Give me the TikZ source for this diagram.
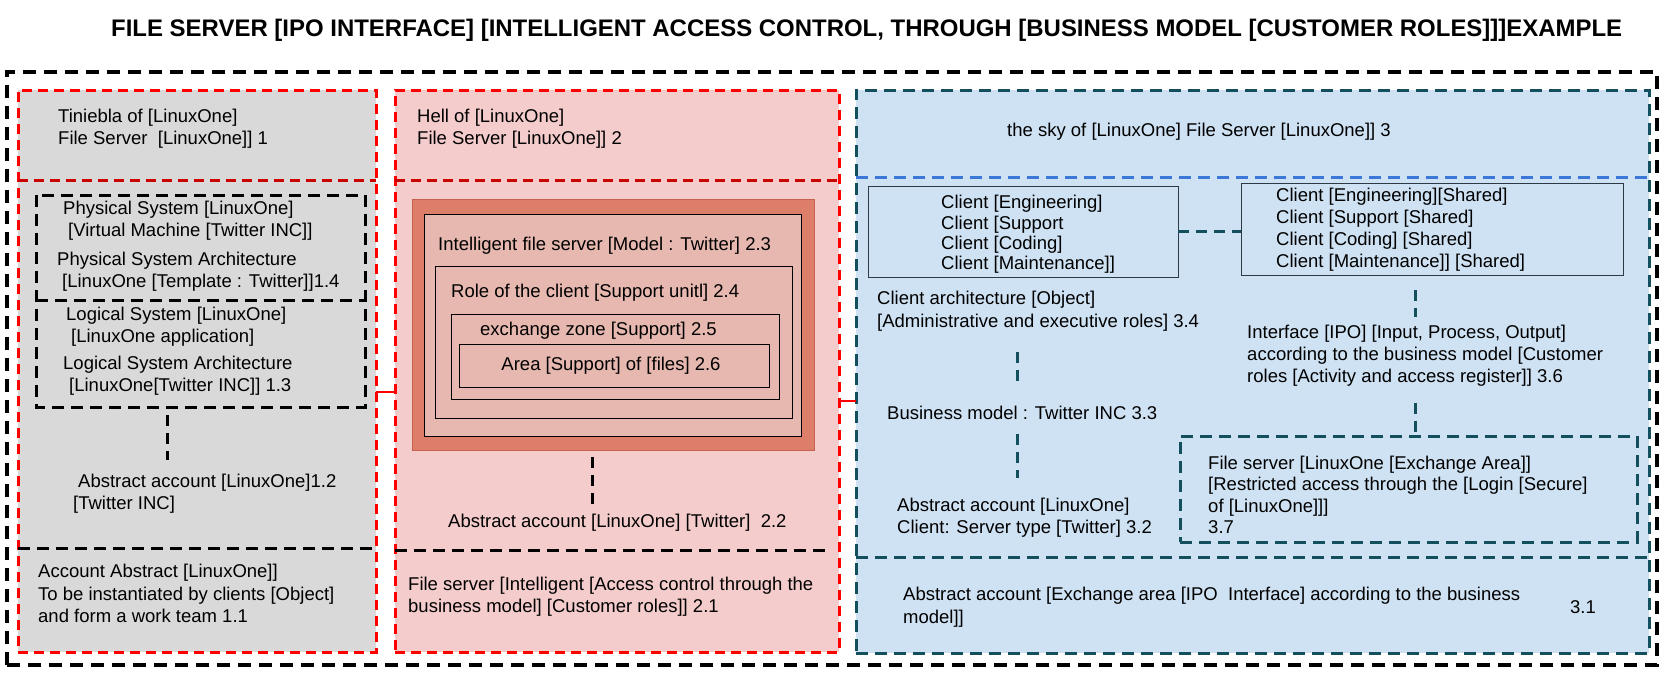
\documentclass[tikz,border=0pt]{standalone}
\usepackage{fontspec}
\setmainfont{Liberation Sans}
\usepackage{graphicx}
\usetikzlibrary{calc}
\definecolor{gfill}{HTML}{D9D9D9}
\definecolor{pfill}{HTML}{F4CCCC}
\definecolor{bfill}{HTML}{CFE2F3}
\definecolor{ofill}{HTML}{DD7E6B}
\definecolor{oline}{HTML}{C4624E}
\definecolor{ifill}{HTML}{E6B8AF}
\definecolor{redc}{HTML}{FF0000}
\definecolor{dredc}{HTML}{CC0000}
\definecolor{tealc}{HTML}{134F5C}
\definecolor{bluec}{HTML}{3C78D8}
\definecolor{boxline}{HTML}{2B3A44}
\begin{document}
\begin{tikzpicture}[x=1pt,y=-1pt,
  panel/.style={anchor=north west, inner sep=0pt, outer sep=0pt},
  txt/.style={anchor=north west, inner sep=0pt, align=left, font=\fontsize{18.5}{21.5}\selectfont},
  outerdash/.style={draw=black, line width=3.2pt, dash pattern=on 13pt off 8pt},
  reddash/.style={draw=redc, line width=3pt, dash pattern=on 10pt off 6pt},
  dreddash/.style={draw=dredc, line width=3pt, dash pattern=on 10pt off 6pt},
  blkdash/.style={draw=black, line width=3pt, dash pattern=on 12pt off 7pt},
  tealdash/.style={draw=tealc, line width=3pt, dash pattern=on 12pt off 7pt},
  bluedash/.style={draw=bluec, line width=3pt, dash pattern=on 12pt off 7pt},
  nested/.style={panel, fill=ifill, draw=black, line width=0.9pt},
  clientbox/.style={panel, draw=boxline, line width=1pt},
  blklink/.style={draw=black, line width=3pt, dash pattern=on 11pt off 7pt},
  teallink/.style={draw=tealc, line width=3pt, dash pattern=on 11pt off 7pt},
  redlink/.style={draw=redc, line width=2.5pt}
]
\useasboundingbox (0,0) rectangle (1677,677);
\fill[white] (0,0) rectangle (1677,677);

% title
\node[anchor=base west, inner sep=0pt] (title) at (111,37)
  {\resizebox{1511pt}{!}{\fontsize{23.7}{28}\selectfont\bfseries FILE SERVER [IPO INTERFACE] [INTELLIGENT ACCESS CONTROL, THROUGH [BUSINESS MODEL [CUSTOMER ROLES]]]EXAMPLE}};

% outer frame
\node[panel, outerdash, minimum width=1650pt, minimum height=593pt] (outer) at (7,72) {};

% columns
\node[panel, fill=gfill, reddash, minimum width=358pt, minimum height=562pt] (c1) at (18,90) {};
\node[panel, fill=pfill, reddash, minimum width=444pt, minimum height=562pt] (c2) at (395,90) {};
\node[panel, fill=bfill, tealdash, minimum width=793pt, minimum height=563pt] (c3) at (856,90) {};

% dividers
\draw[dreddash] ($(c1.north west)+(0,90)$) -- ($(c1.north east)+(0,90)$);
\draw[blkdash] ($(c1.north west)+(0,458)$) -- ($(c1.north east)+(0,458)$);
\draw[dreddash] ($(c2.north west)+(0,90)$) -- ($(c2.north east)+(0,90)$);
\draw[blkdash] ($(c2.north west)+(0,460)$) -- ($(c2.north east)+(-12,460)$);
\draw[bluedash] ($(c3.north west)+(0,87)$) -- ($(c3.north east)+(0,87)$);
\draw[tealdash] ($(c3.north west)+(0,467)$) -- ($(c3.north east)+(0,467)$);

% column 1
\node[panel, minimum width=329pt, minimum height=105pt] (b14) at (36,195) {};
\node[panel, minimum width=329pt, minimum height=107pt] (b13) at (36,300) {};
\draw[blkdash] (b14.north west) rectangle (b13.south east);
\draw[blkdash] (b13.north west) -- (b13.north east);
\node[txt] (t1h) at (58,109) {Tiniebla of [LinuxOne]\\File Server\ \ [LinuxOne]] 1};
\node[txt] (t14a) at (63,201) {Physical System [LinuxOne]\\\hspace{5pt}[Virtual Machine [Twitter INC]]};
\node[txt] (t14b) at (57,252) {Physical System Architecture\\\hspace{5pt}[LinuxOne [Template : Twitter]]1.4};
\node[txt] (t13a) at (66,307) {Logical System [LinuxOne]\\\hspace{5pt}[LinuxOne application]};
\node[txt] (t13b) at (63,356) {Logical System Architecture\\\hspace{6pt}[LinuxOne[Twitter INC]] 1.3};
\node[txt] (t12) at (73,474) {\hspace{5pt}Abstract account [LinuxOne]1.2\\{}[Twitter INC]};
\node[txt, font=\fontsize{18.5}{22.5}\selectfont] (t11) at (38,564) {Account Abstract [LinuxOne]]\\To be instantiated by clients [Object]\\and form a work team 1.1};
\draw[blklink] ($(b13.south west)+(131,8)$) -- ($(t12.north west)+(94,-14)$);

% column 2
\node[panel, fill=ofill, draw=oline, line width=0.8pt, minimum width=402pt, minimum height=251pt] (ob) at (412,199) {};
\node[nested, minimum width=377pt, minimum height=222pt] (b23) at (424,214) {};
\node[nested, minimum width=357pt, minimum height=152pt] (b24) at (435,266) {};
\node[nested, minimum width=328pt, minimum height=85pt] (b25) at (451,314) {};
\node[nested, minimum width=310pt, minimum height=43pt] (b26) at (459,344) {};
\node[txt] (t2h) at (417,109) {Hell of [LinuxOne]\\File Server [LinuxOne]] 2};
\node[txt] (t23) at (438,237) {Intelligent file server [Model : Twitter] 2.3};
\node[txt] (t24) at (451,284) {Role of the client [Support unitl] 2.4};
\node[txt] (t25) at (480,322) {exchange zone [Support] 2.5};
\node[txt, anchor=center] (t26) at ($(b26.center)+(-3,0)$) {Area [Support] of [files] 2.6};
\node[txt] (t22) at (448,514) {Abstract account [LinuxOne] [Twitter]\ \ 2.2};
\node[txt, font=\fontsize{18.5}{22}\selectfont] (t21) at (408,577) {File server [Intelligent [Access control through the\\business model] [Customer roles]] 2.1};
\draw[blklink] ($(ob.south west)+(180,7)$) -- ($(t22.north west)+(144,-7)$);

% column 3
\node[txt] (t3h) at (1007,123) {the sky of [LinuxOne] File Server [LinuxOne]] 3};
\node[clientbox, minimum width=310pt, minimum height=91pt] (cl) at (868,186) {};
\node[clientbox, minimum width=382pt, minimum height=92pt] (cr) at (1241,183) {};
\node[txt, font=\fontsize{18.5}{20.4}\selectfont] (tcl) at (941,195) {Client [Engineering]\\Client [Support\\Client [Coding]\\Client [Maintenance]]};
\node[txt, font=\fontsize{18.5}{22}\selectfont] (tcr) at (1276,188) {Client [Engineering][Shared]\\Client [Support [Shared]\\Client [Coding] [Shared]\\Client [Maintenance]] [Shared]};
\node[txt, font=\fontsize{18.5}{23}\selectfont] (t34) at (877,291) {Client architecture [Object]\\{}[Administrative and executive roles] 3.4};
\node[txt] (t33) at (887,406) {Business model : Twitter INC 3.3};
\node[txt] (t32) at (897,498) {Abstract account [LinuxOne]\\Client: Server type [Twitter] 3.2};
\node[txt, font=\fontsize{18.5}{22}\selectfont] (t36) at (1247,325) {Interface [IPO] [Input, Process, Output]\\according to the business model [Customer\\roles [Activity and access register]] 3.6};
\node[panel, tealdash, minimum width=457pt, minimum height=106pt] (b37) at (1180,436) {};
\node[txt, font=\fontsize{18.5}{21.3}\selectfont] (t37) at (1208,456) {File server [LinuxOne [Exchange Area]]\\{}[Restricted access through the [Login [Secure]\\of [LinuxOne]]]\\3.7};
\node[txt, font=\fontsize{18.5}{23}\selectfont] (t31) at (903,587) {Abstract account [Exchange area [IPO\ \ Interface] according to the business\\model]]};
\node[txt, anchor=center] (t31n) at (1583,607) {3.1};

\draw[teallink] (cl.east) -- (cl.east -| cr.west);
\draw[teallink] ($(t34.south west)+(140,20)$) -- ($(t33.north west)+(130,-19)$);
\draw[teallink] ($(t33.south west)+(130,14)$) -- ($(t32.north west)+(120,-20)$);
\draw[teallink] ($(cr.south west)+(174,15)$) -- ($(t36.north west)+(168,-8)$);
\draw[teallink] ($(t36.south west)+(168,16)$) -- ($(b37.north west)+(235,-3)$);

% red links between columns
\draw[redlink] ([yshift=-21pt]c1.east) -- ([yshift=-21pt]c1.east -| c2.west);
\draw[redlink] ([yshift=-30pt]c2.east) -- ([yshift=-30pt]c2.east -| c3.west);
\end{tikzpicture}
\end{document}
